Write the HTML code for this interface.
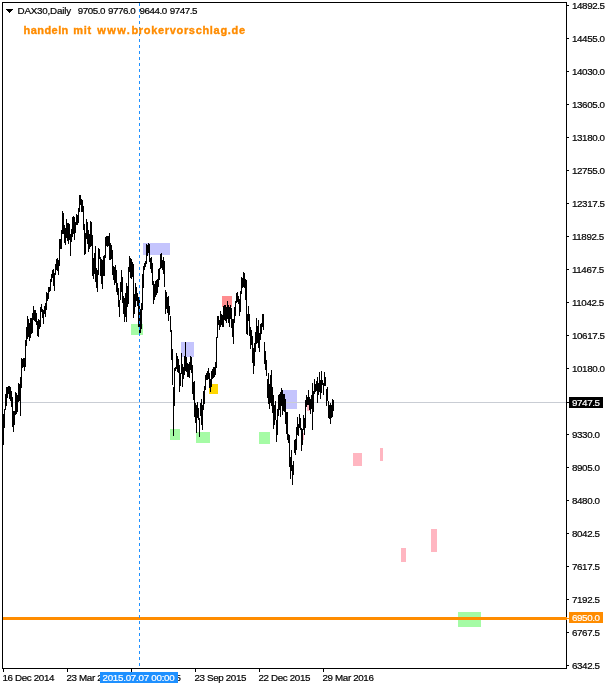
<!DOCTYPE html>
<html><head><meta charset="utf-8"><title>DAX30 Daily</title>
<style>
html,body{margin:0;padding:0;background:#fff;}
body{width:606px;height:689px;position:relative;overflow:hidden;font-family:"Liberation Sans",sans-serif;font-size:9.8px;letter-spacing:-0.4px;color:#000;}
.a{position:absolute;}
.t{position:absolute;white-space:nowrap;line-height:11px;font-size:9.8px;-webkit-text-stroke:0.2px currentColor;}
.yl{left:572px;}
.tk{position:absolute;left:567px;width:2px;height:1px;background:#000;}
.xt{position:absolute;top:669px;width:1px;height:3px;background:#000;}
</style></head><body>
<div class="a" style="left:2px;top:2px;width:565px;height:1px;background:#000"></div>
<div class="a" style="left:2px;top:2px;width:1px;height:667px;background:#000"></div>
<div class="a" style="left:2px;top:668px;width:565px;height:1px;background:#000"></div>
<div class="a" style="left:566px;top:2px;width:1px;height:667px;background:#000"></div>
<div class="a" style="left:143px;top:243px;width:27px;height:12px;background:#c4c4fd"></div>
<div class="a" style="left:131px;top:324px;width:12px;height:11px;background:#a5fba5"></div>
<div class="a" style="left:181px;top:342px;width:13px;height:15px;background:#c4c4fd"></div>
<div class="a" style="left:209px;top:384px;width:9px;height:10px;background:#ffd700"></div>
<div class="a" style="left:170px;top:429px;width:10px;height:11px;background:#a5fba5"></div>
<div class="a" style="left:196px;top:432px;width:14px;height:11px;background:#a5fba5"></div>
<div class="a" style="left:222px;top:296px;width:10px;height:11px;background:#ff8d8f"></div>
<div class="a" style="left:283px;top:390px;width:14px;height:19px;background:#c4c4fd"></div>
<div class="a" style="left:259px;top:432px;width:11px;height:12px;background:#a5fba5"></div>
<div class="a" style="left:353px;top:453px;width:9px;height:13px;background:#ffb6c1"></div>
<div class="a" style="left:380px;top:448px;width:3px;height:13px;background:#ffb6c1"></div>
<div class="a" style="left:401px;top:548px;width:5px;height:14px;background:#ffb6c1"></div>
<div class="a" style="left:431px;top:529px;width:6px;height:23px;background:#ffb6c1"></div>
<div class="a" style="left:458px;top:612px;width:23px;height:15px;background:#a5fba5"></div>
<div class="a" style="left:307px;top:400px;width:3px;height:11px;background:#ffb6c1"></div>
<div class="a" style="left:303px;top:433px;width:1px;height:7px;background:#ffb6c1"></div>
<div class="a" style="left:3px;top:402px;width:563px;height:1px;background:#c9cdd4"></div>
<svg class="a" style="left:0;top:0" width="606" height="689" shape-rendering="crispEdges"><path d="M3.5 414V445M4.5 409V428M5.5 394V410M6.5 387V406M7.5 387V398M8.5 386V394M9.5 386V399M10.5 387V401M11.5 391V407M12.5 397V427M13.5 411V432M14.5 411V425M15.5 392V415M16.5 393V414M17.5 395V412M18.5 383V402M19.5 384V401M20.5 377V416M21.5 358V388M22.5 359V368M23.5 358V367M24.5 358V371M25.5 340V367M26.5 327V346M27.5 316V339M28.5 319V337M29.5 323V341M30.5 318V338M31.5 318V334M32.5 313V333M33.5 306V320M34.5 310V321M35.5 310V322M36.5 313V325M37.5 321V336M38.5 319V337M39.5 320V329M40.5 307V327M41.5 304V312M42.5 309V318M43.5 310V324M44.5 306V314M45.5 303V317M46.5 292V310M47.5 293V301M48.5 287V299M49.5 287V292M50.5 279V291M51.5 274V282M52.5 270V278M53.5 269V286M54.5 273V291M55.5 264V275M56.5 259V270M57.5 258V271M58.5 260V275M59.5 239V266M60.5 239V249M61.5 230V249M62.5 211V234M63.5 213V234M64.5 225V243M65.5 228V245M66.5 219V238M67.5 223V241M68.5 223V244M69.5 224V240M70.5 234V256M71.5 229V242M72.5 217V237M73.5 216V234M74.5 217V240M75.5 222V233M76.5 214V225M77.5 215V225M78.5 208V223M79.5 195V212M80.5 195V205M81.5 199V212M82.5 200V212M83.5 206V230M84.5 224V255M85.5 233V254M86.5 219V239M87.5 222V244M88.5 230V252M89.5 234V249M90.5 221V247M91.5 222V246M92.5 235V276M93.5 258V279M94.5 253V274M95.5 246V282M96.5 268V288M97.5 270V292M98.5 248V275M99.5 249V259M100.5 257V276M101.5 259V284M102.5 260V289M103.5 256V276M104.5 255V276M105.5 237V258M106.5 236V246M107.5 236V247M108.5 236V246M109.5 233V260M110.5 243V260M111.5 245V259M112.5 250V275M113.5 266V280M114.5 267V285M115.5 265V283M116.5 270V292M117.5 283V295M118.5 288V307M119.5 300V317M120.5 282V300M121.5 270V292M122.5 277V303M123.5 296V314M124.5 298V322M125.5 293V317M126.5 283V322M127.5 286V307M128.5 267V304M129.5 256V272M130.5 258V278M131.5 259V279M132.5 262V277M133.5 264V318M134.5 294V314M135.5 283V307M136.5 287V301M137.5 293V306M138.5 297V327M139.5 298V333M140.5 309V333M141.5 303V329M142.5 274V310M143.5 266V288M144.5 263V270M145.5 261V267M146.5 244V264M147.5 245V256M148.5 243V253M149.5 244V262M150.5 258V269M151.5 257V273M152.5 263V285M153.5 281V304M154.5 284V300M155.5 281V297M156.5 280V295M157.5 279V293M158.5 269V287M159.5 268V280M160.5 254V269M161.5 253V268M162.5 260V270M163.5 257V274M164.5 261V287M165.5 290V314M166.5 292V309M167.5 297V313M168.5 296V321M169.5 306V315M170.5 316V332M171.5 330V360M172.5 349V385M173.5 387V436M174.5 368V406M175.5 367V371M176.5 353V369M177.5 356V372M178.5 359V373M179.5 365V392M180.5 373V386M181.5 353V374M182.5 364V387M183.5 367V379M184.5 356V375M185.5 342V371M186.5 357V372M187.5 363V377M188.5 364V377M189.5 362V378M190.5 356V370M191.5 357V373M192.5 365V394M193.5 382V400M194.5 381V417M195.5 403V423M196.5 405V433M197.5 402V418M198.5 408V420M199.5 418V437M200.5 403V416M201.5 399V425M202.5 405V430M203.5 391V410M204.5 386V404M205.5 375V390M206.5 373V380M207.5 371V380M208.5 368V379M209.5 373V388M210.5 379V392M211.5 371V387M212.5 369V379M213.5 367V378M214.5 367V377M215.5 362V375M216.5 337V368M217.5 316V338M218.5 316V325M219.5 320V330M220.5 311V327M221.5 314V325M222.5 315V327M223.5 306V327M224.5 305V320M225.5 305V321M226.5 307V323M227.5 301V319M228.5 305V323M229.5 307V327M230.5 305V319M231.5 308V328M232.5 319V337M233.5 319V344M234.5 307V323M235.5 301V316M236.5 293V303M237.5 292V302M238.5 296V304M239.5 299V316M240.5 291V312M241.5 277V294M242.5 278V288M243.5 272V287M244.5 273V288M245.5 279V300M246.5 280V334M247.5 314V335M248.5 306V321M249.5 314V336M250.5 327V349M251.5 330V345M252.5 336V363M253.5 348V374M254.5 343V366M255.5 332V352M256.5 318V344M257.5 326V343M258.5 320V348M259.5 333V352M260.5 324V340M261.5 323V334M262.5 314V327M263.5 314V330M264.5 342V364M265.5 351V370M266.5 360V376M267.5 379V398M268.5 373V404M269.5 384V409M270.5 375V403M271.5 370V406M272.5 387V413M273.5 395V429M274.5 405V425M275.5 401V420M276.5 420V442M277.5 409V435M278.5 395V416M279.5 394V410M280.5 392V417M281.5 388V406M282.5 390V415M283.5 394V411M284.5 394V412M285.5 399V424M286.5 412V434M287.5 412V440M288.5 434V443M289.5 435V467M290.5 457V479M291.5 450V471M292.5 465V485M293.5 461V475M294.5 440V453M295.5 439V455M296.5 427V450M297.5 417V435M298.5 424V436M299.5 414V428M300.5 418V430M301.5 428V451M302.5 429V445M303.5 415V430M304.5 418V435M305.5 400V428M306.5 395V407M307.5 397V405M308.5 390V405M309.5 397V410M310.5 399V414M311.5 395V409M312.5 383V430M313.5 391V412M314.5 379V394M315.5 384V392M316.5 381V391M317.5 377V403M318.5 383V395M319.5 372V392M320.5 380V399M321.5 371V393M322.5 380V385M323.5 383V395M324.5 372V386M325.5 377V386M326.5 389V406M327.5 387V401M328.5 401V418M329.5 405V419M330.5 403V424M331.5 405V418M332.5 399V417M333.5 400V411" stroke="#000" stroke-width="1" fill="none"/></svg>
<div class="a" style="left:3px;top:617px;width:564px;height:3px;background:#ff8c00"></div><div class="a" style="left:567px;top:618px;width:2px;height:1px;background:#ff8c00"></div>
<div class="a" style="left:139px;top:3px;width:1px;height:665px;background:repeating-linear-gradient(to bottom,#1e90ff 0,#1e90ff 3px,transparent 3px,transparent 6px)"></div>
<svg class="a" style="left:6px;top:9px" width="7" height="4" shape-rendering="crispEdges"><path d="M0 0h7v1h-7zM1 1h5v1h-5zM2 2h3v1h-3zM3 3h1v1h-1z" fill="#000"/></svg>
<div class="t" style="left:0;top:5px;width:300px;height:11px"><span style="position:absolute;left:17.5px;top:0;letter-spacing:-0.19px">DAX30,Daily</span> <span style="position:absolute;left:77.8px;top:0;letter-spacing:-0.45px">9705.0</span> <span style="position:absolute;left:108px;top:0;letter-spacing:-0.45px">9776.0</span> <span style="position:absolute;left:139.6px;top:0;letter-spacing:-0.45px">9644.0</span> <span style="position:absolute;left:169.8px;top:0;letter-spacing:-0.45px">9747.5</span></div>
<div class="t" style="left:0;top:25px;width:300px;height:11px;color:#ff8c00;font-size:11px;font-weight:bold;-webkit-text-stroke:0.35px #ff8c00"><span style="position:absolute;left:23.6px;top:0;letter-spacing:0.43px">handeln</span> <span style="position:absolute;left:73.3px;top:0;letter-spacing:0.7px">mit</span> <span style="position:absolute;left:97.3px;top:0;letter-spacing:1.4px">www.</span><span style="position:absolute;left:131.4px;top:0;letter-spacing:0.68px">brokervorschlag.de</span></div>
<div class="tk" style="top:5px"></div><div class="t yl" style="top:0px">14892.5</div>
<div class="tk" style="top:38px"></div><div class="t yl" style="top:33px">14455.0</div>
<div class="tk" style="top:71px"></div><div class="t yl" style="top:66px">14030.0</div>
<div class="tk" style="top:104px"></div><div class="t yl" style="top:99px">13605.0</div>
<div class="tk" style="top:137px"></div><div class="t yl" style="top:132px">13180.0</div>
<div class="tk" style="top:170px"></div><div class="t yl" style="top:165px">12755.0</div>
<div class="tk" style="top:203px"></div><div class="t yl" style="top:198px">12317.5</div>
<div class="tk" style="top:236px"></div><div class="t yl" style="top:231px">11892.5</div>
<div class="tk" style="top:269px"></div><div class="t yl" style="top:264px">11467.5</div>
<div class="tk" style="top:302px"></div><div class="t yl" style="top:297px">11042.5</div>
<div class="tk" style="top:335px"></div><div class="t yl" style="top:330px">10617.5</div>
<div class="tk" style="top:368px"></div><div class="t yl" style="top:363px">10180.0</div>
<div class="tk" style="top:434px"></div><div class="t yl" style="top:429px">9330.0</div>
<div class="tk" style="top:467px"></div><div class="t yl" style="top:462px">8905.0</div>
<div class="tk" style="top:500px"></div><div class="t yl" style="top:495px">8480.0</div>
<div class="tk" style="top:533px"></div><div class="t yl" style="top:528px">8042.5</div>
<div class="tk" style="top:566px"></div><div class="t yl" style="top:561px">7617.5</div>
<div class="tk" style="top:599px"></div><div class="t yl" style="top:594px">7192.5</div>
<div class="tk" style="top:632px"></div><div class="t yl" style="top:627px">6767.5</div>
<div class="tk" style="top:665px"></div><div class="t yl" style="top:660px">6342.5</div>
<div class="tk" style="top:402px"></div><div class="a" style="left:569px;top:397px;width:34px;height:11px;background:#000"></div><div class="t yl" style="top:397px;color:#fff">9747.5</div>
<div class="a" style="left:569px;top:612px;width:34px;height:11px;background:#ff8c00"></div><div class="t yl" style="top:612px;color:#fff">6950.0</div>
<div class="xt" style="left:3px"></div><div class="t" style="left:2.5px;top:672px;letter-spacing:-0.36px">16 Dec 2014</div>
<div class="xt" style="left:67px"></div><div class="t" style="left:66.5px;top:672px;letter-spacing:-0.36px">23 Mar 2015</div>
<div class="xt" style="left:131px"></div><div class="t" style="left:130.5px;top:672px;letter-spacing:-0.36px">22 Jun 2015</div>
<div class="xt" style="left:195px"></div><div class="t" style="left:194.5px;top:672px;letter-spacing:-0.36px">23 Sep 2015</div>
<div class="xt" style="left:259px"></div><div class="t" style="left:258.5px;top:672px;letter-spacing:-0.36px">22 Dec 2015</div>
<div class="xt" style="left:323px"></div><div class="t" style="left:322.5px;top:672px;letter-spacing:-0.36px">29 Mar 2016</div>
<div class="a" style="left:100px;top:672px;width:78px;height:11px;background:#1e90ff"></div><div class="t" style="left:102.5px;top:672px;color:#fff;letter-spacing:-0.27px">2015.07.07 00:00</div>
</body></html>
